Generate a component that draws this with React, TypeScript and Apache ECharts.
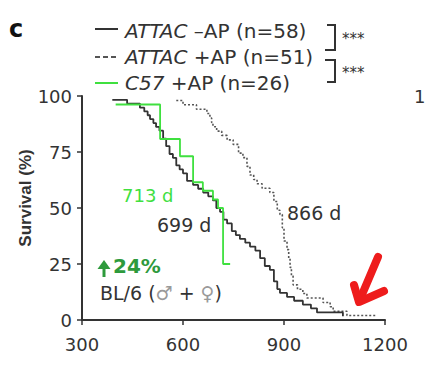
import React, { useEffect, useRef } from "react";
import * as echarts from "echarts";

// ---- data (day, survival %) ----
const attacNoAP: [number, number][] = [
  [390, 98.3], [434, 96.6], [472, 94.8], [485, 93.1], [495, 91.4], [502, 89.7],
  [512, 87.9], [520, 86.2], [530, 84.5], [541, 81.0], [550, 77.6], [560, 74.1],
  [570, 72.4], [580, 69.0], [590, 67.2], [600, 65.5], [612, 62.1], [630, 60.3],
  [645, 58.6], [660, 56.9], [675, 55.2], [689, 53.4], [699, 50.0], [710, 48.3],
  [720, 44.8], [731, 43.1], [745, 39.7], [757, 37.9], [769, 36.2], [785, 34.5],
  [799, 32.8], [815, 31.0], [829, 27.6], [843, 24.1], [858, 22.4], [870, 17.2],
  [880, 13.8], [888, 12.1], [909, 10.3], [930, 8.6], [956, 6.9], [980, 5.2],
  [998, 3.4], [1045, 3.4], [1075, 1.7],
];
const attacAP: [number, number][] = [
  [580, 98.0], [600, 96.1], [640, 94.1], [671, 92.2], [680, 90.2], [685, 88.2],
  [689, 86.3], [700, 84.3], [715, 82.4], [731, 80.4], [749, 78.4], [765, 74.5],
  [778, 72.5], [790, 68.6], [799, 64.7], [810, 62.7], [820, 60.8], [835, 58.8],
  [858, 56.9], [870, 52.9], [880, 49.0], [888, 47.1], [895, 41.2], [900, 35.3],
  [909, 31.4], [914, 27.5], [918, 23.5], [922, 19.6], [927, 15.7], [940, 13.7],
  [956, 11.8], [968, 9.8], [1016, 7.8], [1037, 5.9], [1046, 3.9], [1087, 2.0],
  [1176, 2.0],
];
const c57AP: [number, number][] = [
  [400, 96.2], [532, 80.8], [591, 73.1], [630, 61.5], [659, 57.7], [689, 53.8],
  [704, 50.0], [719, 25.0], [740, 25.0],
];
const legendLabels = ["ATTAC", " –AP (n=58)", " +AP (n=51)", "C57", " +AP (n=26)"];
const medianLabels = ["713 d", "699 d", "866 d"];
const xRange = [300, 1200];
const yRange = [0, 100];

const FONT = "DejaVu Sans";
const DARK = "#333333";
const GREEN = "#3fe03f";
const DGREEN = "#2e9a3c";
const RED = "#ee1c1c";

function txt(x: number, y: number, text: string, size: number, fill: string, extra: any = {}, rich?: any) {
  const style: any = {
    text,
    x: 0,
    y: 0,
    font: `${extra.weight || "normal"} ${size}px "${extra.family || FONT}"`,
    fontSize: size,
    fontFamily: extra.family || FONT,
    fontWeight: extra.weight || "normal",
    fill,
    align: extra.align || "left",
    verticalAlign: "middle",
    textAlign: extra.align || "left",
    textVerticalAlign: "middle",
  };
  if (rich) style.rich = rich;
  return { type: "text", x, y, rotation: extra.rotation || 0, style, z: 10 };
}

export default function App() {
  const ref = useRef<HTMLDivElement>(null);
  useEffect(() => {
    if (!ref.current) return;
    const chart = echarts.init(ref.current, undefined, { renderer: "svg" });
    const italicRich = { i: { fontStyle: "italic", fontSize: 20, fontFamily: FONT, fill: DARK } };
    const sexRich = { g: { fontSize: 19, fontFamily: FONT, fill: "#9a9a9a" } };
    chart.setOption({
      animation: false,
      grid: { left: 82, top: 96, width: 303, height: 224 },
      xAxis: {
        type: "value",
        min: xRange[0],
        max: xRange[1],
        interval: 300,
        axisLine: { show: true, lineStyle: { color: DARK, width: 2 } },
        axisTick: { show: true, length: 5, lineStyle: { color: DARK, width: 1.5 } },
        axisLabel: { fontSize: 18, fontFamily: FONT, color: DARK, margin: 15, formatter: (v: number) => String(v) },
        splitLine: { show: false },
      },
      yAxis: {
        type: "value",
        min: yRange[0],
        max: yRange[1],
        interval: 25,
        axisLine: { show: true, lineStyle: { color: DARK, width: 2 } },
        axisTick: { show: true, length: 5, lineStyle: { color: DARK, width: 1.5 } },
        axisLabel: { fontSize: 18, fontFamily: FONT, color: DARK, margin: 10, formatter: (v: number) => String(v) },
        splitLine: { show: false },
      },
      series: [
        {
          type: "line", step: "end", symbol: "none", data: attacAP,
          lineStyle: { color: "#555555", width: 1.6, type: [2, 2] },
        },
        {
          type: "line", step: "end", symbol: "none", data: attacNoAP,
          lineStyle: { color: DARK, width: 1.8 },
        },
        {
          type: "line", step: "end", symbol: "none", data: c57AP,
          lineStyle: { color: GREEN, width: 1.8 },
        },
      ],
      graphic: [
        txt(9, 29, "c", 24, "#111", { weight: "bold" }),
        // legend samples
        { type: "line", shape: { x1: 95, y1: 29, x2: 118, y2: 29 }, style: { stroke: DARK, lineWidth: 2 } },
        { type: "line", shape: { x1: 95, y1: 57, x2: 118, y2: 57 }, style: { stroke: "#555", lineWidth: 2, lineDash: [5, 3] } },
        { type: "line", shape: { x1: 95, y1: 83, x2: 118, y2: 83 }, style: { stroke: GREEN, lineWidth: 2 } },
        txt(125, 30.5, `{i|${legendLabels[0]}}${legendLabels[1]}`, 20, DARK, {}, italicRich),
        txt(125, 57, `{i|${legendLabels[0]}}${legendLabels[2]}`, 20, DARK, {}, italicRich),
        txt(125, 82.5, `{i|${legendLabels[3]}}${legendLabels[4]}`, 20, DARK, {}, italicRich),
        // brackets
        { type: "polyline", shape: { points: [[327, 25], [335, 25], [335, 50], [325, 50]] }, style: { stroke: DARK, lineWidth: 2, fill: "none" } },
        { type: "polyline", shape: { points: [[325, 60], [335, 60], [335, 82], [327, 82]] }, style: { stroke: DARK, lineWidth: 2, fill: "none" } },
        txt(342, 39, "***", 15, DARK),
        txt(342, 73, "***", 15, DARK),
        txt(414, 96, "1", 18, DARK),
        // y axis title
        txt(25, 198, "Survival (%)", 17, DARK, { weight: "bold", family: "Liberation Sans", align: "center", rotation: Math.PI / 2 }),
        // medians
        txt(122, 195, medianLabels[0], 18, GREEN),
        txt(157, 225, medianLabels[1], 19, DARK),
        txt(287, 213, medianLabels[2], 19, DARK),
        // green up arrow + 24%
        { type: "line", shape: { x1: 104, y1: 277, x2: 104, y2: 265 }, style: { stroke: DGREEN, lineWidth: 3 } },
        { type: "polygon", shape: { points: [[97.5, 269], [104, 260], [110.5, 269]] }, style: { fill: DGREEN } },
        txt(113, 266, "24%", 20, DGREEN, { weight: "bold" }),
        txt(100, 293, "BL/6 ({g|♂} + {g|♀})", 19, DARK, {}, sexRich),
        // red arrow
        { type: "line", shape: { x1: 378, y1: 257, x2: 361, y2: 297 }, style: { stroke: RED, lineWidth: 8, lineCap: "round" } },
        { type: "polyline", shape: { points: [[354, 285], [359, 302], [384, 291]] }, style: { stroke: RED, lineWidth: 8, lineCap: "round", lineJoin: "round", fill: "none" } },
      ],
    });
    return () => chart.dispose();
  }, []);
  return <div ref={ref} style={{ position: "fixed", left: 0, top: 0, width: 426, height: 370, background: "#fff" }} />;
}
